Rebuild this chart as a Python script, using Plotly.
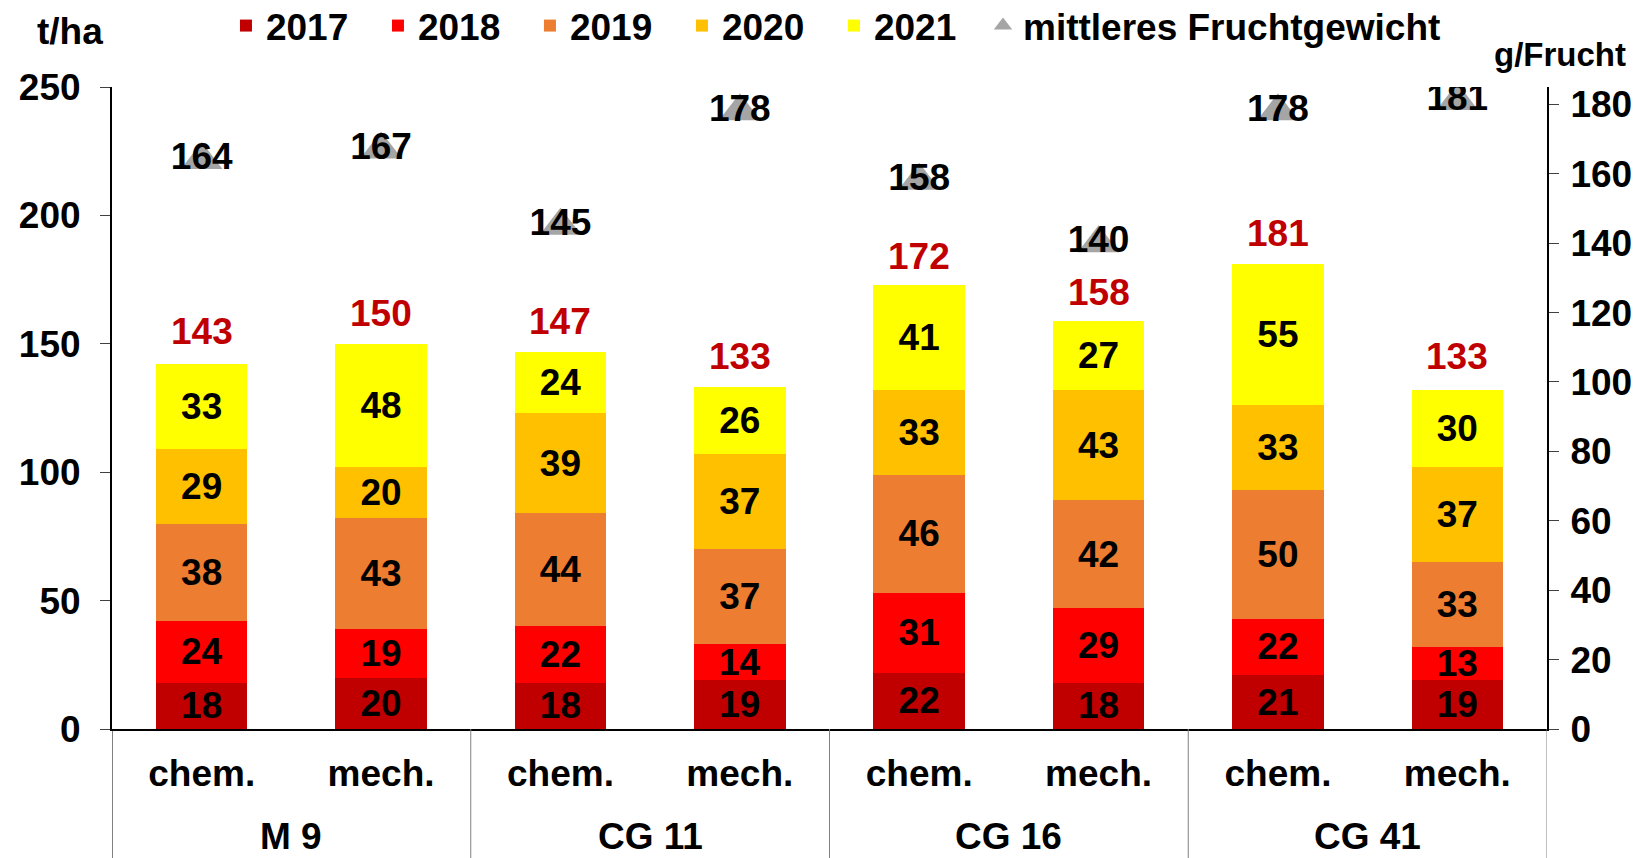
import plotly.graph_objects as go

# data
unterlage = ["M 9", "M 9", "CG 11", "CG 11", "CG 16", "CG 16", "CG 41", "CG 41"]
variante = ["chem.", "mech.", "chem.", "mech.", "chem.", "mech.", "chem.", "mech."]
years = ["2017", "2018", "2019", "2020", "2021"]
y2017 = [18, 20, 18, 19, 22, 18, 21, 19]
y2018 = [24, 19, 22, 14, 31, 29, 22, 13]
y2019 = [38, 43, 44, 37, 46, 42, 50, 33]
y2020 = [29, 20, 39, 37, 33, 43, 33, 37]
y2021 = [33, 48, 24, 26, 41, 27, 55, 30]
totals = [143, 150, 147, 133, 172, 158, 181, 133]
fruchtgewicht = [164, 167, 145, 178, 158, 140, 178, 181]

colours = ["#C00000", "#FF0000", "#ED7D31", "#FFC000", "#FFFF00"]
FONT = "Liberation Sans, Arial"
FS = 37
bold = dict(family=FONT, size=FS, color="black", weight="bold")

# unique category keys, shown as chem./mech.
x = [u + " " + v for u, v in zip(unterlage, variante)]
groups = list(dict.fromkeys(unterlage))

fig = go.Figure()

for name, vals, col in zip(years, [y2017, y2018, y2019, y2020, y2021], colours):
    fig.add_trace(go.Bar(x=x, y=vals, name=name, marker=dict(color=col, line=dict(width=0)),
                         text=vals, textposition="inside", insidetextanchor="middle",
                         textangle=0, textfont=bold, legend="legend"))

# mean fruit weight on right axis
fig.add_trace(go.Scatter(x=x, y=fruchtgewicht, yaxis="y2", name="mittleres Fruchtgewicht",
                         mode="markers+text", text=fruchtgewicht, textposition="middle center",
                         marker=dict(symbol="triangle-up", size=36, color="#A5A5A5"),
                         textfont=bold, legend="legend2"))

# sums above the bars
for cat, tot in zip(x, totals):
    fig.add_annotation(x=cat, y=tot, text=str(tot), showarrow=False, yanchor="bottom", yshift=8,
                       font=dict(family=FONT, size=FS, color="#C00000", weight="bold"))

# group labels and dividers under the axis
for g in groups:
    idx = [i for i, u in enumerate(unterlage) if u == g]
    fig.add_annotation(x=sum(idx) / len(idx), xref="x", y=-0.168, yref="paper", text=g,
                       showarrow=False, yanchor="middle", font=bold)
    fig.add_shape(type="line", xref="x", yref="paper", x0=idx[0] - 0.5, x1=idx[0] - 0.5,
                  y0=0, y1=-0.21, line=dict(color="black" if idx[0] == 0 else "#808080", width=1))
fig.add_shape(type="line", xref="x", yref="paper", x0=len(x) - 0.5, x1=len(x) - 0.5,
              y0=0, y1=-0.21, line=dict(color="#808080", width=1))

fig.update_layout(
    barmode="stack", bargap=0.49,
    width=1645, height=858,
    margin=dict(l=104, r=106, t=79, b=137, autoexpand=False),
    plot_bgcolor="white", paper_bgcolor="white",
    font=bold,
    uniformtext=dict(minsize=FS, mode="show"),
    xaxis=dict(type="category", tickvals=x, ticktext=variante, range=[-0.5, len(x) - 0.5],
               showline=True, linecolor="black", linewidth=2,
               ticks="", automargin=False, ticklabelstandoff=11, tickfont=bold),
    yaxis=dict(range=[0, 250], dtick=50, showgrid=False, zeroline=False,
               showline=True, linecolor="black", linewidth=2, automargin=False,
               ticks="outside", ticklen=10, tickcolor="#404040", ticklabelstandoff=12,
               tickfont=bold),
    yaxis2=dict(range=[0, 185], dtick=20, overlaying="y", side="right", showgrid=False,
                zeroline=False, showline=True, linecolor="black", linewidth=2, automargin=False,
                ticks="outside", ticklen=10, tickcolor="#404040", ticklabelstandoff=4,
                tickfont=bold),
    legend=dict(orientation="h", xref="container", x=0.1325, xanchor="left",
                yref="container", y=0.979, yanchor="middle", traceorder="normal",
                entrywidth=107, entrywidthmode="pixels",
                font=bold, bgcolor="rgba(0,0,0,0)"),
    legend2=dict(orientation="h", xref="container", x=0.5927, xanchor="left",
                 yref="container", y=0.979, yanchor="middle",
                 font=bold, bgcolor="rgba(0,0,0,0)"),
    showlegend=True,
)

fig.add_annotation(text="t/ha", xref="paper", yref="paper", x=-0.029, y=1.087,
                   showarrow=False, xanchor="center", yanchor="middle", font=bold)
fig.add_annotation(text="g/Frucht", xref="paper", yref="paper", x=1.009, y=1.05,
                   showarrow=False, xanchor="center", yanchor="middle",
                   font=dict(family=FONT, size=33, color="black", weight="bold"))

fig.write_html("out.html")
